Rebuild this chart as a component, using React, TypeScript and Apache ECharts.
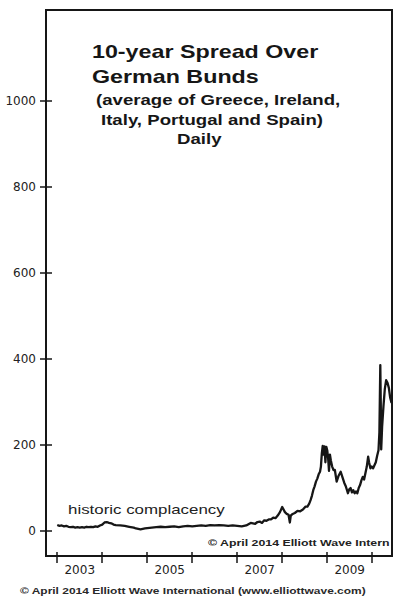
import React, { useEffect, useRef } from "react";
import * as echarts from "echarts";

const years: number[] = [
  2003.0, 2003.05, 2003.1, 2003.15, 2003.2, 2003.25, 2003.3, 2003.35, 2003.4, 2003.45,
  2003.5, 2003.55, 2003.6, 2003.65, 2003.7, 2003.75, 2003.8, 2003.85, 2003.9, 2003.95,
  2004.0, 2004.05, 2004.1, 2004.15, 2004.2, 2004.25, 2004.3, 2004.4, 2004.5, 2004.6,
  2004.7, 2004.75, 2004.8, 2004.85, 2004.9, 2004.95, 2005.0, 2005.1, 2005.2, 2005.3,
  2005.4, 2005.5, 2005.6, 2005.7, 2005.8, 2005.9, 2006.0, 2006.1, 2006.2, 2006.3,
  2006.4, 2006.5, 2006.6, 2006.7, 2006.8, 2006.9, 2007.0, 2007.1, 2007.2, 2007.25,
  2007.3, 2007.35, 2007.4, 2007.45, 2007.5, 2007.55, 2007.6, 2007.65, 2007.7, 2007.75,
  2007.8, 2007.85, 2007.9, 2007.95, 2008.0, 2008.03, 2008.06, 2008.1, 2008.14, 2008.17,
  2008.19, 2008.22, 2008.28, 2008.34, 2008.4, 2008.46, 2008.52, 2008.56, 2008.6, 2008.63,
  2008.66, 2008.69, 2008.72, 2008.75, 2008.78, 2008.81, 2008.84, 2008.86, 2008.88, 2008.9,
  2008.92, 2008.94, 2008.96, 2008.98, 2009.0, 2009.02, 2009.04, 2009.06, 2009.08, 2009.11,
  2009.14, 2009.17, 2009.21, 2009.25, 2009.3, 2009.34, 2009.38, 2009.41, 2009.44, 2009.46,
  2009.49, 2009.52, 2009.55, 2009.58, 2009.61, 2009.64, 2009.67, 2009.7, 2009.73, 2009.76,
  2009.79, 2009.82, 2009.85, 2009.88, 2009.91, 2009.93, 2009.96, 2009.99, 2010.02, 2010.05,
  2010.08, 2010.11, 2010.14, 2010.16, 2010.18, 2010.19, 2010.2, 2010.22, 2010.25, 2010.28,
  2010.31, 2010.34, 2010.37, 2010.4, 2010.43,
];

const spread: number[] = [
  14, 12, 13, 11, 12, 10, 9, 10, 8, 9,
  8, 9, 8, 10, 9, 10, 9, 11, 10, 13,
  15, 20, 21, 19, 18, 15, 14, 13, 12, 10,
  8, 6, 5, 4, 5, 6, 7, 8, 9, 10,
  9, 10, 11, 9, 11, 12, 11, 12, 13, 12,
  14, 13, 14, 13, 12, 13, 12, 11, 13, 16,
  19, 18, 17, 21, 22, 19, 25, 24, 27, 27,
  31, 30, 36, 44, 56, 50, 44, 40, 38, 20,
  36, 39, 42, 47, 46, 50, 57, 57, 64, 72,
  82, 95, 104, 115, 122, 132, 138, 150, 180, 198,
  178, 197, 160, 196, 188, 170, 140, 178, 165, 150,
  142, 142, 115, 128, 138, 125, 112, 105, 95, 88,
  97, 100, 90, 95, 88, 92, 88, 100, 107, 118,
  126, 120, 135, 150, 173, 160, 146, 150, 146, 153,
  160, 175, 188, 230, 386, 300, 190, 242, 290, 330,
  351, 345, 333, 310, 298,
];

const yTicks: number[] = [0, 200, 400, 600, 800, 1000];
const yearTicks: number[] = [2003, 2004, 2005, 2006, 2007, 2008, 2009, 2010];
const yearLabels: number[] = [2003, 2005, 2007, 2009];

const titleLines: string[] = ["10-year Spread Over", "German Bunds"];
const subtitleLines: string[] = ["(average of Greece, Ireland,", "Italy, Portugal and Spain)", "Daily"];
const annotation = "historic complacency";
const innerCredit = "© April 2014 Elliott Wave Intern";
const footer = "© April 2014 Elliott Wave International (www.elliottwave.com)";

const X_MIN = 2002.75;
const X_MAX = 2010.44;
const Y_MIN = -58;
const Y_MAX = 1212;

const INK = "#161616";

function txt(text: string, x: number, y: number, font: string, scaleX: number, fill = INK) {
  return {
    type: "text",
    x,
    y,
    scaleX,
    silent: true,
    style: {
      text,
      x: 0,
      y: 0,
      font,
      fill,
      textAlign: "left",
      textVerticalAlign: "middle",
      align: "left",
      verticalAlign: "middle",
    },
  };
}

export default function App() {
  const ref = useRef<HTMLDivElement>(null);

  useEffect(() => {
    if (!ref.current) return;
    const chart = echarts.init(ref.current, undefined, { renderer: "svg" });
    const data = years.map((y, i) => [y, spread[i]]);
    const labelFont = { fontFamily: "DejaVu Sans", fontSize: 12, color: "#222" };

    chart.setOption({
      animation: false,
      backgroundColor: "#ffffff",
      grid: {
        left: 46,
        right: 8,
        top: 10,
        bottom: 44,
        show: true,
        borderColor: INK,
        borderWidth: 2,
        backgroundColor: "transparent",
      },
      xAxis: [
        {
          type: "value",
          min: X_MIN,
          max: X_MAX,
          position: "bottom",
          axisLine: { show: false, onZero: false },
          splitLine: { show: false },
          axisTick: {
            show: true,
            customValues: yearTicks,
            length: 7,
            lineStyle: { color: INK, width: 1.5 },
          },
          axisLabel: {
            ...labelFont,
            customValues: yearLabels.map((y) => y + 0.5),
            formatter: (v: number) => String(Math.floor(v)),
            margin: 8,
          },
        },
        {
          type: "value",
          min: X_MIN,
          max: X_MAX,
          position: "bottom",
          axisLine: { show: false, onZero: false },
          splitLine: { show: false },
          axisTick: {
            show: true,
            inside: true,
            customValues: yearTicks,
            length: 4,
            lineStyle: { color: INK, width: 1.5 },
          },
          axisLabel: { show: false },
        },
      ],
      yAxis: [
        {
          type: "value",
          min: Y_MIN,
          max: Y_MAX,
          position: "left",
          axisLine: { show: false, onZero: false },
          splitLine: { show: false },
          axisTick: {
            show: true,
            customValues: yTicks,
            length: 6,
            lineStyle: { color: INK, width: 1.5 },
          },
          axisLabel: {
            ...labelFont,
            customValues: yTicks,
            formatter: (v: number) => String(v),
            margin: 10,
          },
        },
        {
          type: "value",
          min: Y_MIN,
          max: Y_MAX,
          position: "left",
          axisLine: { show: false, onZero: false },
          splitLine: { show: false },
          axisTick: {
            show: true,
            inside: true,
            customValues: yTicks,
            length: 6,
            lineStyle: { color: INK, width: 1.5 },
          },
          axisLabel: { show: false },
        },
      ],
      series: [
        {
          type: "line",
          xAxisIndex: 0,
          yAxisIndex: 0,
          data,
          showSymbol: false,
          symbol: "none",
          clip: true,
          lineStyle: { color: INK, width: 2.3, join: "round" },
        },
      ],
      graphic: [
        txt(titleLines[0], 92, 52, "bold 17.5px 'Liberation Sans'", 1.33),
        txt(titleLines[1], 92, 77, "bold 17.5px 'Liberation Sans'", 1.33),
        txt(subtitleLines[0], 96, 100, "bold 14px 'Liberation Sans'", 1.33),
        txt(subtitleLines[1], 101, 120, "bold 14px 'Liberation Sans'", 1.33),
        txt(subtitleLines[2], 177, 139, "bold 14px 'Liberation Sans'", 1.33),
        txt(annotation, 68, 509, "13px 'Liberation Sans'", 1.3, "#222"),
        txt(innerCredit, 208, 543, "bold 9.5px 'Liberation Sans'", 1.3, "#222"),
        txt(footer, 20, 591, "bold 9px 'Liberation Sans'", 1.33, "#2a2a2a"),
      ],
    });

    return () => {
      chart.dispose();
    };
  }, []);

  return (
    <div
      ref={ref}
      style={{ position: "fixed", left: 0, top: 0, width: 400, height: 600, background: "#fff" }}
    />
  );
}
